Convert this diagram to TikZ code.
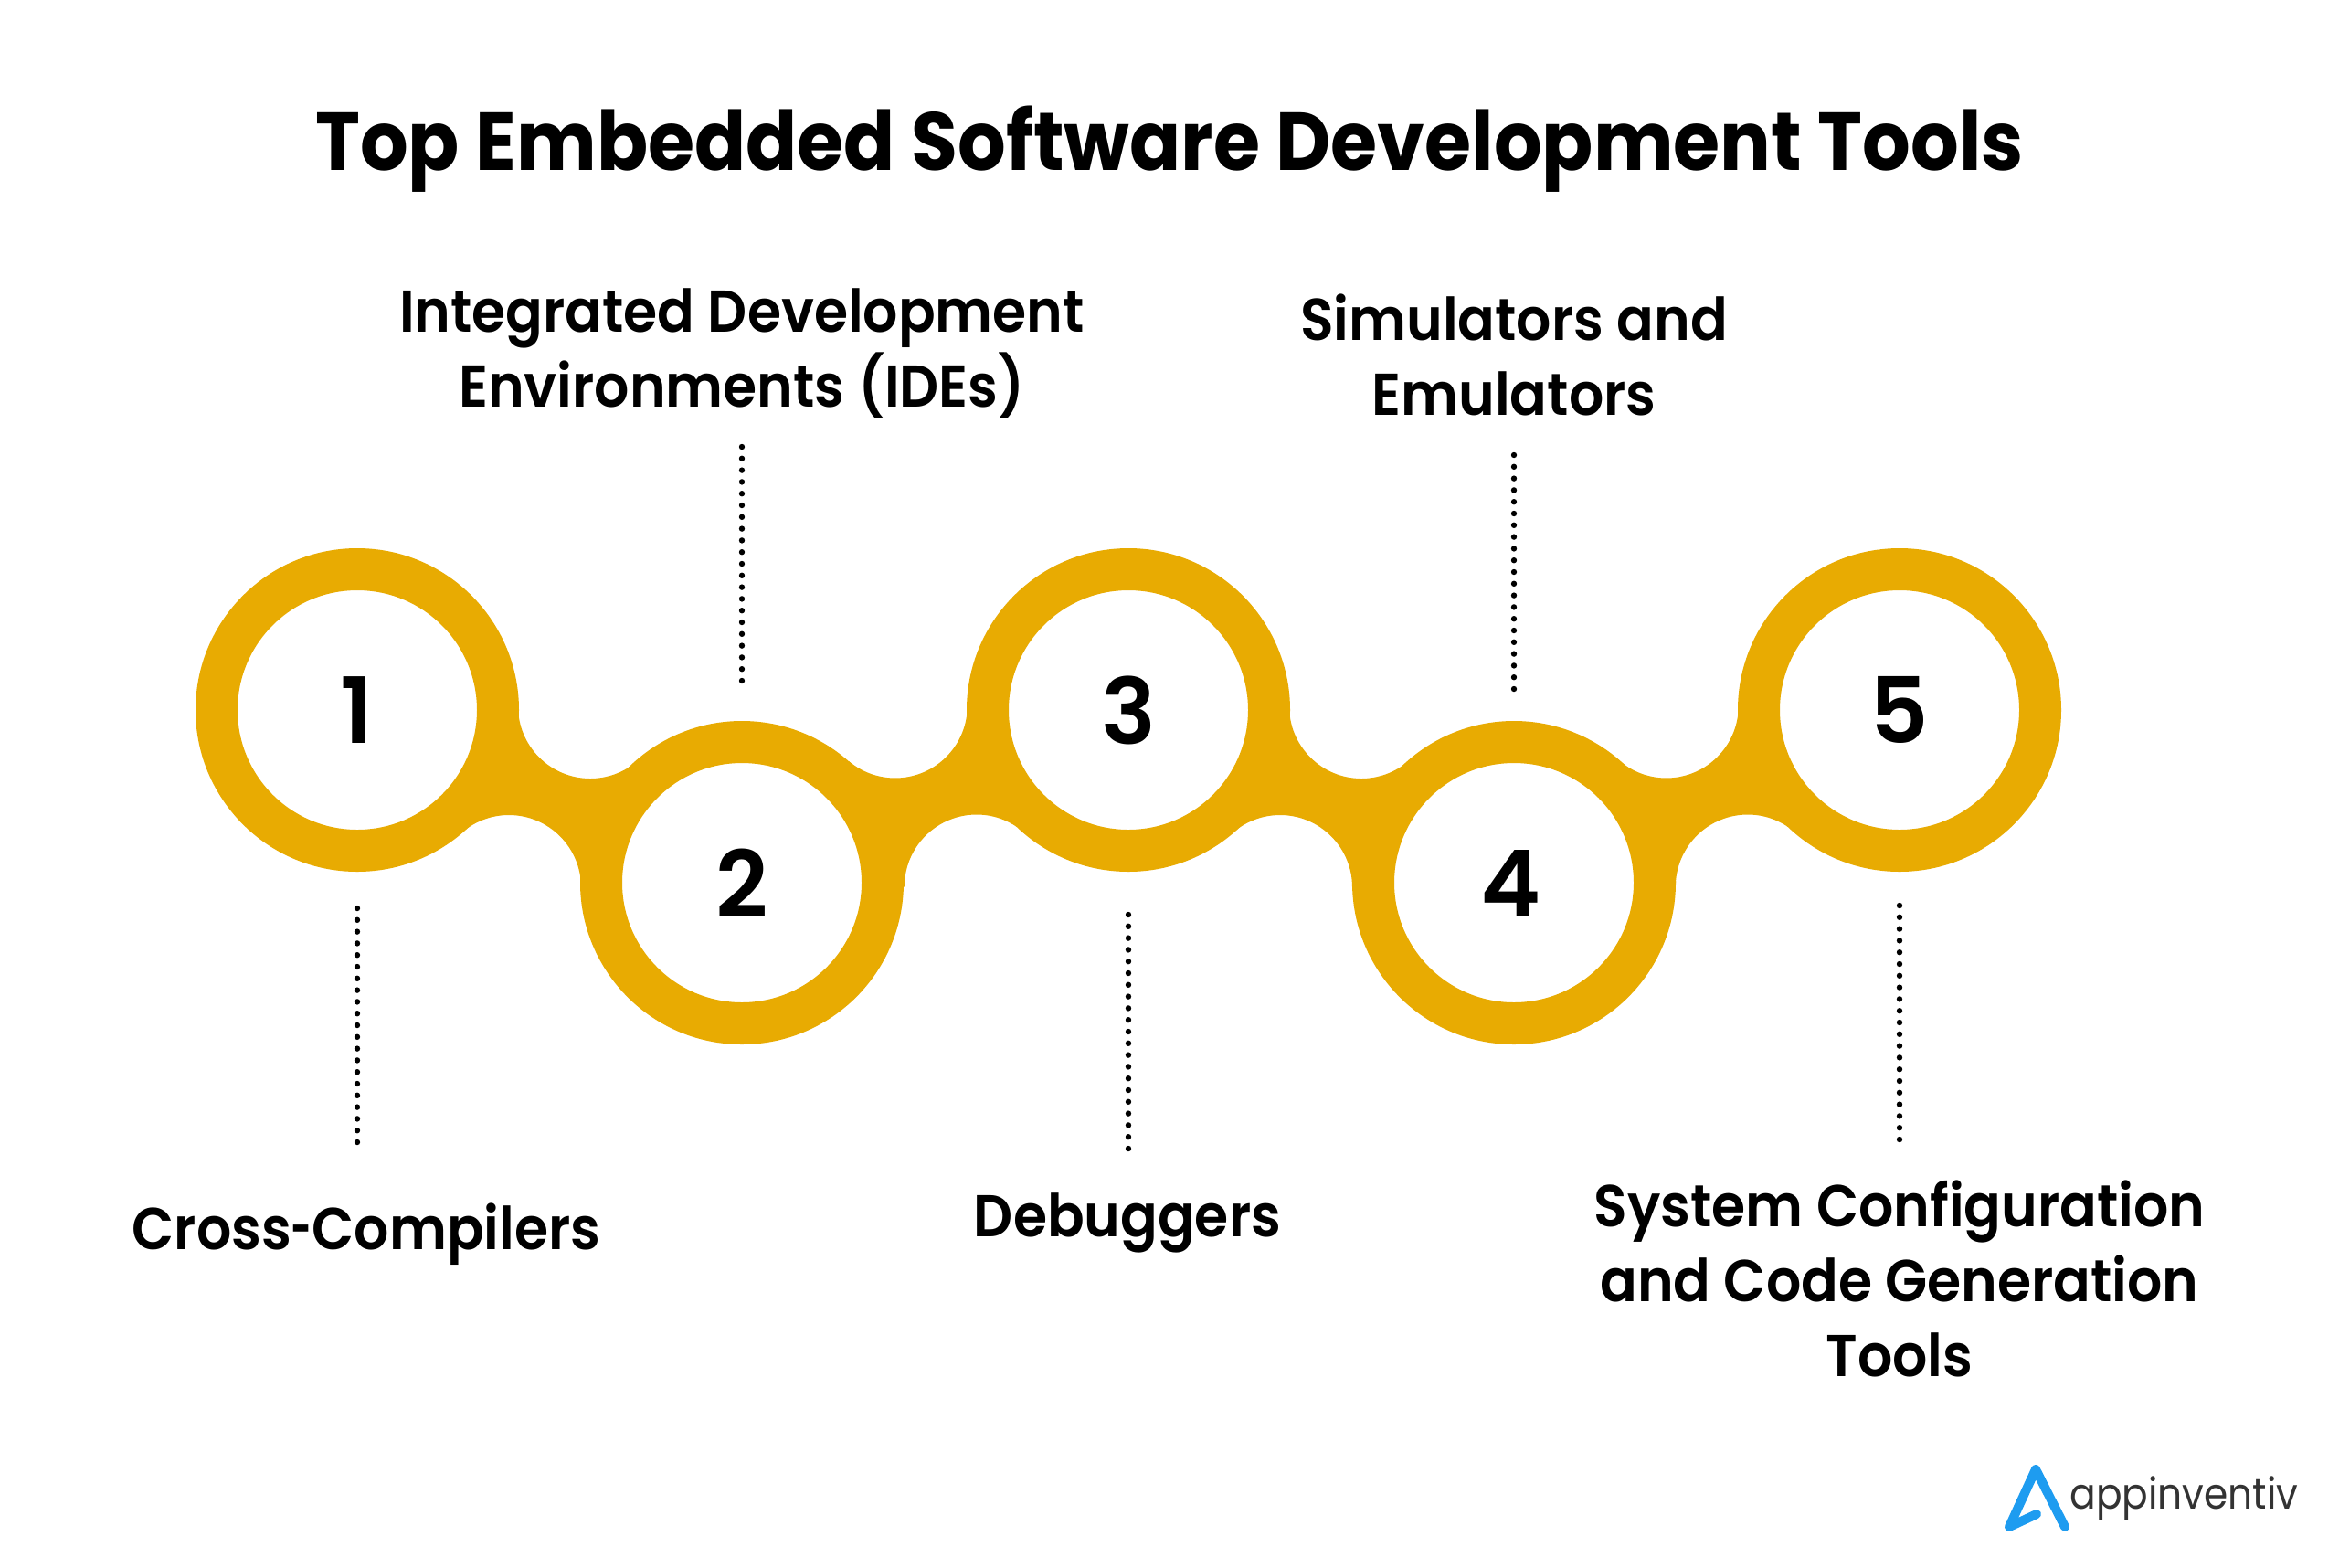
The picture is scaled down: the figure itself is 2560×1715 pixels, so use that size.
\documentclass[tikz,border=0pt]{standalone}
\usepackage{fontspec}
\setmainfont{Poppins}
\newfontfamily\titlefont[FakeStretch=0.92]{Poppins Bold}
\newfontfamily\numfont{Poppins SemiBold}
\newfontfamily\labfont[FakeStretch=0.93]{Poppins SemiBold}
\newfontfamily\logofont[FakeStretch=0.9]{Poppins}
\definecolor{gold}{HTML}{E8AB02}
\definecolor{logoblue}{HTML}{1E9CF0}
\definecolor{logotext}{HTML}{333333}
\tikzset{
  ring/.style={circle,draw=gold,fill=white,line width=23pt,minimum size=154pt,inner sep=0pt,font=\fontsize{50}{50}\numfont},
  lab/.style={align=center,inner sep=0pt,font=\fontsize{32.3}{41}\labfont},
  dots/.style={line width=3.2pt,line cap=round,dash pattern=on 0pt off 6.4pt,black},
  necka/.pic={\fill[gold] (567,773) arc[start angle=180,end angle=50,radius=79] -- (812,966) -- (636,971) arc[start angle=0,end angle=-132,radius=79] -- (391,777) -- cycle;},
  neckb/.pic={\fill[gold] (929,833) arc[start angle=130,end angle=0,radius=79] -- (1235,777) -- (1113,905) arc[start angle=-56,end angle=-180,radius=79] -- (812,966) -- cycle;}
}
\begin{document}
\begin{tikzpicture}[x=0.5pt,y=-0.5pt]
\useasboundingbox (0,0) rectangle (2560,1715);
\fill[white] (0,0) rectangle (2560,1715);
\pic at (0,0) {necka};
\pic at (0,0) {neckb};
\pic at (844,0) {necka};
\pic at (844,0) {neckb};
\node[ring] (c1) at (391,777) {1};
\node[ring] (c2) at (812,966) {2};
\node[ring] (c3) at (1235,777) {3};
\node[ring] (c4) at (1657,966) {4\kern3pt};
\node[ring] (c5) at (2079,777) {5};
\node[font=\fontsize{45}{50}\titlefont,inner sep=0pt] (title) at (1280,163) {Top Embedded Software Development Tools};
\node[lab] (l1) at (401,1351) {Cross\scalebox{0.65}[1]{-}Compilers};
\node[lab] (l2) at (812,387) {Integrated Development\\Environments (IDEs)};
\node[lab] (l3) at (1234,1338) {Debuggers};
\node[lab] (l4) at (1657,388) {Simulators and\\Emulators};
\node[lab] (l5) at (2079,1399) {System Configuration\\and Code Generation\\Tools};
\coordinate (d1a) at (391,994); \coordinate (d1b) at (391,1252);
\coordinate (d2a) at (812,489); \coordinate (d2b) at (812,747);
\coordinate (d3a) at (1235,1001); \coordinate (d3b) at (1235,1260);
\coordinate (d4a) at (1657,498); \coordinate (d4b) at (1657,756);
\coordinate (d5a) at (2079,991); \coordinate (d5b) at (2079,1251);
\draw[dots] (d1a) -- (d1b);
\draw[dots] (d2a) -- (d2b);
\draw[dots] (d3a) -- (d3b);
\draw[dots] (d4a) -- (d4b);
\draw[dots] (d5a) -- (d5b);
\draw[logoblue,line width=5pt,line cap=round,line join=round] (2229,1657) -- (2199,1671) -- (2228,1608) -- (2260,1671);
\node[anchor=base west,inner sep=0pt,text=logotext,font=\fontsize{23.5}{24}\logofont] (logo) at (2265,1651) {appinventiv};
\end{tikzpicture}
\end{document}
